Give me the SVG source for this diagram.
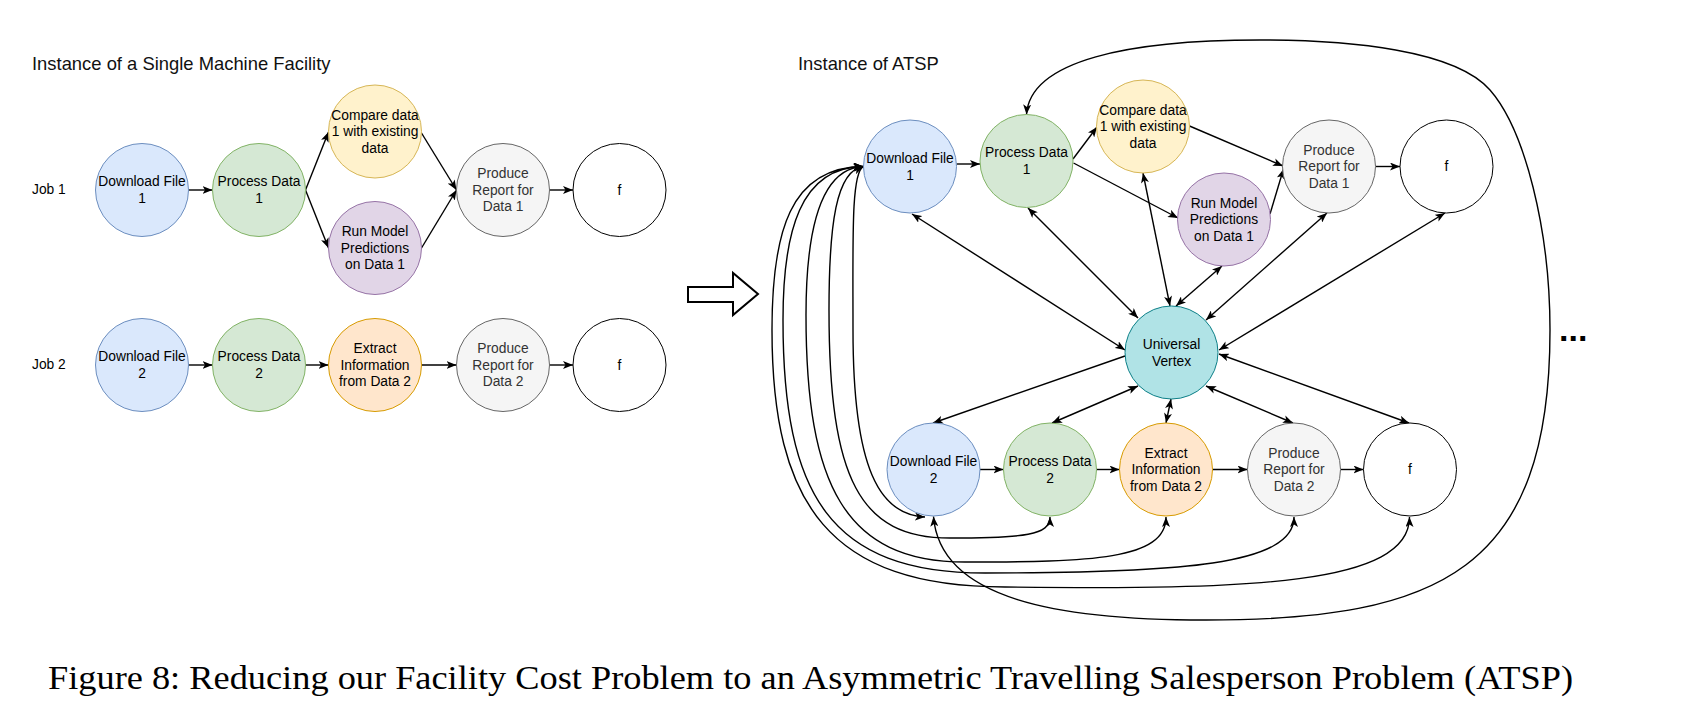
<svg xmlns="http://www.w3.org/2000/svg" width="1684" height="717" viewBox="0 0 1684 717">
<style>
text{font-family:"Liberation Sans",Arial,sans-serif;}
.t{font-size:13.8px;text-anchor:middle;dominant-baseline:central;fill:#000;}
.g .t{fill:#333333;}
.lbl{font-size:13.8px;dominant-baseline:central;fill:#000;}
.title{font-size:18.4px;fill:#111;}
.cap{font-family:"Liberation Serif","Times New Roman",serif;font-size:33px;fill:#000;}
.blue circle{fill:#dae8fc;stroke:#6c8ebf;}
.green circle{fill:#d5e8d4;stroke:#82b366;}
.yellow circle{fill:#fff2cc;stroke:#d6b656;}
.purple circle{fill:#e1d5e7;stroke:#9673a6;}
.g circle{fill:#f5f5f5;stroke:#666666;}
.orange circle{fill:#ffe6cc;stroke:#d79b00;}
.teal circle{fill:#b0e3e6;stroke:#0e8088;}
.white circle{fill:#ffffff;stroke:#000000;}
#connectors path,#connectors line{fill:none;stroke:#000;stroke-width:1.4;}
.e{marker-end:url(#ah);}
.b{marker-start:url(#ah);marker-end:url(#ah);}
</style>
<defs>
<marker id="ah" viewBox="0 0 10 8" refX="10" refY="4" markerWidth="10" markerHeight="8" markerUnits="userSpaceOnUse" orient="auto-start-reverse">
<path d="M0,0 L10,4 L0,8 L2.5,4 z" fill="#000"/>
</marker>
</defs>
<rect width="1684" height="717" fill="#ffffff"/>

<text class="title" x="32" y="69.5">Instance of a Single Machine Facility</text>
<text class="title" x="798" y="70">Instance of ATSP</text>
<text class="lbl" x="32" y="189">Job 1</text>
<text class="lbl" x="32" y="364">Job 2</text>

<g id="connectors">
<!-- left job 1 -->
<line class="e" x1="188.5" y1="190" x2="212.5" y2="190"/>
<line class="e" x1="305.5" y1="190" x2="328.5" y2="132"/>
<line class="e" x1="305.5" y1="190" x2="328.5" y2="248"/>
<line class="e" x1="421.5" y1="133" x2="456.5" y2="190"/>
<line class="e" x1="421.5" y1="248" x2="456.5" y2="190"/>
<line class="e" x1="549.5" y1="190" x2="573" y2="190"/>
<!-- left job 2 -->
<line class="e" x1="188.5" y1="365" x2="212.5" y2="365"/>
<line class="e" x1="305.5" y1="365" x2="328.5" y2="365"/>
<line class="e" x1="421.5" y1="365" x2="456.5" y2="365"/>
<line class="e" x1="549.5" y1="365" x2="573" y2="365"/>
<!-- right row 1 -->
<line class="e" x1="956.5" y1="164" x2="980" y2="164"/>
<line class="e" x1="1073" y1="159" x2="1097" y2="127"/>
<line class="e" x1="1073.5" y1="163" x2="1178" y2="218"/>
<line class="e" x1="1189.5" y1="126" x2="1283" y2="166"/>
<line class="e" x1="1270" y1="214" x2="1283.5" y2="169"/>
<line class="e" x1="1375.5" y1="166.5" x2="1400" y2="166.5"/>
<!-- right row 2 -->
<line class="e" x1="980" y1="469.5" x2="1003.5" y2="469.5"/>
<line class="e" x1="1096.5" y1="469.5" x2="1119.5" y2="469.5"/>
<line class="e" x1="1212.5" y1="469.5" x2="1247.5" y2="469.5"/>
<line class="e" x1="1340.5" y1="469.5" x2="1363.5" y2="469.5"/>
<!-- universal vertex links -->
<line class="b" x1="912" y1="214" x2="1125" y2="350"/>
<line class="e" x1="1125" y1="356" x2="933" y2="423"/>
<line class="b" x1="1028" y1="208" x2="1138" y2="318"/>
<line class="b" x1="1143" y1="173" x2="1170" y2="306"/>
<line class="b" x1="1222" y1="266" x2="1176" y2="306"/>
<line class="b" x1="1327" y1="213" x2="1206" y2="320"/>
<line class="b" x1="1445" y1="213" x2="1219" y2="350"/>
<line class="b" x1="1138" y1="386" x2="1052" y2="423"/>
<line class="b" x1="1171" y1="399" x2="1166" y2="423"/>
<line class="b" x1="1206" y1="386" x2="1293" y2="423"/>
<line class="b" x1="1219" y1="354" x2="1409" y2="423"/>
<!-- bundle from Download File 1 -->
<path class="b" d="M863.5,166.5 C851,172 853,240 853,330 C853,470 880,515 925,517"/>
<path class="b" d="M863.5,166.5 C836,170 829,225 829,310 C829,480 860,538 950,538 C1025,538 1050,535 1050,517"/>
<path class="b" d="M863.5,166.5 C820,168 806,230 806,315 C806,485 845,562 965,562 C1090,562 1166,560 1166,517"/>
<path class="b" d="M863.5,166.5 C800,167 783,232 783,320 C783,495 830,573 985,573 C1180,573 1294,565 1294,517"/>
<path class="b" d="M863.5,166.5 C790,167 772,232 772,330 C772,505 830,587 1005,587 C1250,590 1409.5,585 1409.5,517"/>
<!-- big loop -->
<path class="b" d="M933.5,516.5 C940,600 1060,620 1206,620 C1440,620 1550,570 1550,330 C1550,230 1525,130 1490,90 C1455,50 1350,40 1260,40 C1130,40 1030,60 1026.5,114.5"/>
</g>

<!-- reduction arrow -->
<polygon points="688,287 733,287 733,273 758,294 733,315 733,302 688,302" fill="#fff" stroke="#000" stroke-width="2"/>

<!-- left nodes -->
<g id="l-df1" class="blue"><circle cx="142" cy="190" r="46.5"/><text class="t" x="142" y="181.5">Download File</text><text class="t" x="142" y="198.5">1</text></g>
<g id="l-pd1" class="green"><circle cx="259" cy="190" r="46.5"/><text class="t" x="259" y="181.5">Process Data</text><text class="t" x="259" y="198.5">1</text></g>
<g id="l-cd1" class="yellow"><circle cx="375" cy="131.5" r="46.5"/><text class="t" x="375" y="115">Compare data</text><text class="t" x="375" y="131.5">1 with existing</text><text class="t" x="375" y="148">data</text></g>
<g id="l-rm1" class="purple"><circle cx="375" cy="248" r="46.5"/><text class="t" x="375" y="231.5">Run Model</text><text class="t" x="375" y="248">Predictions</text><text class="t" x="375" y="264.5">on Data 1</text></g>
<g id="l-pr1" class="g"><circle cx="503" cy="190" r="46.5"/><text class="t" x="503" y="173.5">Produce</text><text class="t" x="503" y="190">Report for</text><text class="t" x="503" y="206.5">Data 1</text></g>
<g id="l-f1" class="white"><circle cx="619.5" cy="190" r="46.5"/><text class="t" x="619.5" y="190">f</text></g>

<g id="l-df2" class="blue"><circle cx="142" cy="365" r="46.5"/><text class="t" x="142" y="356.5">Download File</text><text class="t" x="142" y="373.5">2</text></g>
<g id="l-pd2" class="green"><circle cx="259" cy="365" r="46.5"/><text class="t" x="259" y="356.5">Process Data</text><text class="t" x="259" y="373.5">2</text></g>
<g id="l-ei2" class="orange"><circle cx="375" cy="365" r="46.5"/><text class="t" x="375" y="348.5">Extract</text><text class="t" x="375" y="365">Information</text><text class="t" x="375" y="381.5">from Data 2</text></g>
<g id="l-pr2" class="g"><circle cx="503" cy="365" r="46.5"/><text class="t" x="503" y="348.5">Produce</text><text class="t" x="503" y="365">Report for</text><text class="t" x="503" y="381.5">Data 2</text></g>
<g id="l-f2" class="white"><circle cx="619.5" cy="365" r="46.5"/><text class="t" x="619.5" y="365">f</text></g>

<!-- right nodes -->
<g id="r-df1" class="blue"><circle cx="910" cy="166.5" r="46.5"/><text class="t" x="910" y="158">Download File</text><text class="t" x="910" y="175">1</text></g>
<g id="r-pd1" class="green"><circle cx="1026.5" cy="161" r="46.5"/><text class="t" x="1026.5" y="152.5">Process Data</text><text class="t" x="1026.5" y="169.5">1</text></g>
<g id="r-cd1" class="yellow"><circle cx="1143" cy="126.5" r="46.5"/><text class="t" x="1143" y="110">Compare data</text><text class="t" x="1143" y="126.5">1 with existing</text><text class="t" x="1143" y="143">data</text></g>
<g id="r-rm1" class="purple"><circle cx="1224" cy="219.5" r="46.5"/><text class="t" x="1224" y="203">Run Model</text><text class="t" x="1224" y="219.5">Predictions</text><text class="t" x="1224" y="236">on Data 1</text></g>
<g id="r-pr1" class="g"><circle cx="1329" cy="166.5" r="46.5"/><text class="t" x="1329" y="150">Produce</text><text class="t" x="1329" y="166.5">Report for</text><text class="t" x="1329" y="183">Data 1</text></g>
<g id="r-f1" class="white"><circle cx="1446.5" cy="166.5" r="46.5"/><text class="t" x="1446.5" y="166.5">f</text></g>
<g id="r-uv" class="teal"><circle cx="1171.5" cy="352.5" r="46.5"/><text class="t" x="1171.5" y="344">Universal</text><text class="t" x="1171.5" y="361.5">Vertex</text></g>
<g id="r-df2" class="blue"><circle cx="933.5" cy="469.5" r="46.5"/><text class="t" x="933.5" y="461">Download File</text><text class="t" x="933.5" y="478">2</text></g>
<g id="r-pd2" class="green"><circle cx="1050" cy="469.5" r="46.5"/><text class="t" x="1050" y="461">Process Data</text><text class="t" x="1050" y="478">2</text></g>
<g id="r-ei2" class="orange"><circle cx="1166" cy="469.5" r="46.5"/><text class="t" x="1166" y="453">Extract</text><text class="t" x="1166" y="469.5">Information</text><text class="t" x="1166" y="486">from Data 2</text></g>
<g id="r-pr2" class="g"><circle cx="1294" cy="469.5" r="46.5"/><text class="t" x="1294" y="453">Produce</text><text class="t" x="1294" y="469.5">Report for</text><text class="t" x="1294" y="486">Data 2</text></g>
<g id="r-f2" class="white"><circle cx="1410" cy="469.5" r="46.5"/><text class="t" x="1410" y="469.5">f</text></g>

<text x="1559" y="341" font-size="34" font-weight="bold" fill="#000">...</text>

<text class="cap" x="48" y="689" textLength="1525" lengthAdjust="spacingAndGlyphs">Figure 8: Reducing our Facility Cost Problem to an Asymmetric Travelling Salesperson Problem (ATSP)</text>
</svg>
